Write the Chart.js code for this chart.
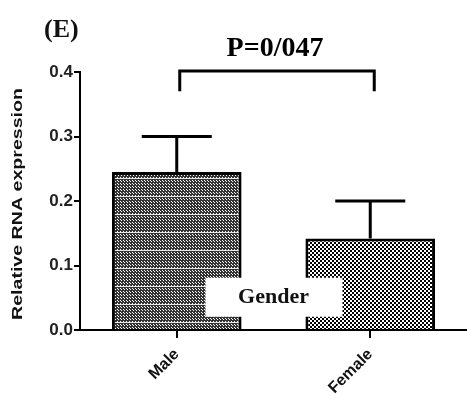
<!DOCTYPE html>
<html>
<head>
<meta charset="utf-8">
<script src="https://cdn.jsdelivr.net/npm/chart.js@4.4.1/dist/chart.umd.min.js"></script>
<style>
  html, body { margin: 0; padding: 0; background: #fff; }
  #wrap { width: 467px; height: 403px; }
</style>
</head>
<body>
<div id="wrap"><canvas id="myChart" width="467" height="403"></canvas></div>
<script>
// data
const groups = ['Male', 'Female'];
const meanExpr = [0.245, 0.142];
const upperErr = [0.300, 0.200];
const yTicks = [0, 0.1, 0.2, 0.3, 0.4];
const panelLabel = '(E)';
const pLabel = 'P=0/047';
const groupTitle = 'Gender';
const yTitle = 'Relative RNA expression';

// fill patterns for the two bars
function malePattern(ctx) {
  const c = document.createElement('canvas');
  c.width = 3; c.height = 18;
  const g = c.getContext('2d');
  g.fillStyle = '#333';
  g.fillRect(0, 0, 3, 18);
  g.fillStyle = '#fff';
  for (let y = 0; y < 18; y += 3) { g.fillRect(1, y + 1, 1, 1); g.fillRect(0, y, 1, 1); }
  g.fillStyle = '#e8e8e8';
  g.fillRect(0, 16, 3, 1);
  return ctx.createPattern(c, 'repeat');
}
function femalePattern(ctx) {
  const c = document.createElement('canvas');
  c.width = 4; c.height = 4;
  const g = c.getContext('2d');
  g.fillStyle = '#fff';
  g.fillRect(0, 0, 4, 4);
  g.fillStyle = '#000';
  g.fillRect(0, 0, 2, 2);
  g.fillRect(2, 2, 2, 2);
  return ctx.createPattern(c, 'repeat');
}

const ctx = document.getElementById('myChart').getContext('2d');

const annotations = {
  id: 'annotations',
  afterDatasetsDraw(chart) {
    const c = chart.ctx;
    const x = chart.scales.x, y = chart.scales.y;
    c.save();
    c.strokeStyle = '#000';
    c.lineWidth = 3;
    c.lineCap = 'butt';
    // error bars
    meanExpr.forEach((m, i) => {
      const px = x.getPixelForValue(i);
      const top = y.getPixelForValue(upperErr[i]);
      c.beginPath();
      c.moveTo(px, y.getPixelForValue(m));
      c.lineTo(px, top);
      c.moveTo(px - 35, top);
      c.lineTo(px + 35, top);
      c.stroke();
    });
    // significance bracket
    const x0 = x.getPixelForValue(0) + 3, x1 = x.getPixelForValue(1) + 4;
    const bt = y.getPixelForValue(0.4) - 1, bb = y.getPixelForValue(0.37);
    c.beginPath();
    c.moveTo(x0, bb); c.lineTo(x0, bt); c.lineTo(x1, bt); c.lineTo(x1, bb);
    c.stroke();
    c.fillStyle = '#000';
    c.textAlign = 'center';
    c.textBaseline = 'middle';
    c.font = 'bold 28px "Liberation Serif"';
    c.fillText(pLabel, (x0 + x1) / 2 - 2, bt - 22);
    // group label box
    const gx = (x.getPixelForValue(0) + x.getPixelForValue(1)) / 2;
    const gy = y.getPixelForValue(0.05);
    c.fillStyle = '#fff';
    c.fillRect(gx - 68, gy - 20, 137, 39);
    c.fillStyle = '#111';
    c.font = 'bold 22px "Liberation Serif"';
    c.fillText(groupTitle, gx, gy);
    // panel label
    c.textAlign = 'left';
    c.font = 'bold 26px "Liberation Serif"';
    c.fillText(panelLabel, 44, 30);
    // y axis title, narrow and tall like the original
    c.font = 'bold 14px "Liberation Sans"';
    const w = c.measureText(yTitle).width;
    c.translate(18, 204);
    c.rotate(-Math.PI / 2);
    c.scale(232 / w, 1);
    c.textAlign = 'center';
    c.fillStyle = '#111';
    c.fillText(yTitle, 0, 0);
    c.restore();
  }
};

new Chart(ctx, {
  type: 'bar',
  data: {
    labels: groups,
    datasets: [{
      data: meanExpr,
      backgroundColor: [malePattern(ctx), femalePattern(ctx)],
      borderColor: '#000',
      borderWidth: 3,
      barPercentage: 0.67,
      categoryPercentage: 1
    }]
  },
  options: {
    responsive: false,
    animation: false,
    events: [],
    layout: { padding: { top: 72, right: 0, bottom: 0, left: 0 } },
    plugins: { legend: { display: false }, tooltip: { enabled: false } },
    scales: {
      x: {
        grid: { drawOnChartArea: false, drawTicks: true, tickLength: 8, color: '#000', lineWidth: 2, offset: false },
        border: { display: true, color: '#000', width: 2 },
        ticks: {
          color: '#111',
          font: { family: 'Liberation Sans', weight: 'bold', size: 16 },
          minRotation: 45, maxRotation: 45, padding: 7
        },
        afterFit: s => { s.height = 73; }
      },
      y: {
        min: 0, max: 0.4,
        afterBuildTicks: s => { s.ticks = yTicks.map(v => ({ value: v })); },
        grid: { drawOnChartArea: false, drawTicks: true, tickLength: 6, color: '#000', lineWidth: 2 },
        border: { display: true, color: '#000', width: 2 },
        ticks: {
          color: '#222',
          font: { family: 'Liberation Sans', weight: 'bold', size: 17 },
          padding: 1,
          callback: v => v.toFixed(1)
        },
        afterFit: s => { s.width = 80; }
      }
    }
  },
  plugins: [annotations]
});
</script>
</body>
</html>
